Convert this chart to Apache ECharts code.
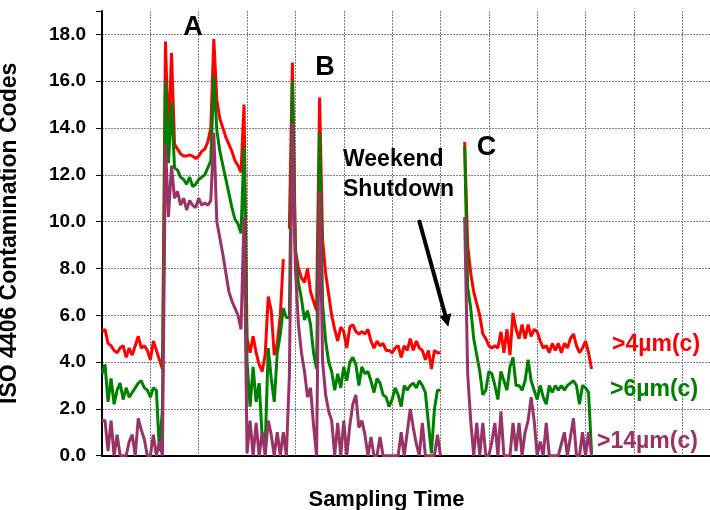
<!DOCTYPE html>
<html>
<head>
<meta charset="utf-8">
<script src="https://cdn.jsdelivr.net/npm/echarts@6/dist/echarts.min.js"></script>
<style>html,body{margin:0;padding:0;background:#fff}#c{width:710px;height:510px}</style>
</head>
<body>
<div id="c"></div>
<script>
// Sample index along the sampling time (16 samples per vertical grid division)
const yTicks = [0, 2, 4, 6, 8, 10, 12, 14, 16, 18];
const seriesNames = ['>4µm(c)', '>6µm(c)', '>14µm(c)'];

const red4 = [
  5.3,5.4,4.8,4.7,4.5,4.4,4.6,4.7,4.2,4.6,4.3,4.7,5.1,4.6,4.7,4.5,4.1,4.9,4.5,4.1,3.7,
  17.7,13.4,17.2,13.3,13.1,12.9,12.8,12.8,12.85,12.8,12.7,12.8,13.0,13.1,13.4,14.0,17.8,15.2,14.4,14.0,13.6,13.3,13.0,12.6,12.4,12.1,15.0,
  5.0,4.4,5.1,4.4,3.9,3.6,4.3,6.8,6.2,4.3,4.8,6.0,8.4,null,9.7,16.8,8.8,8.0,7.6,7.4,8.0,7.0,6.6,6.2,15.3,9.2,7.8,6.9,6.0,5.4,4.9,5.5,5.3,4.6,5.5,5.6,5.3,
  5.2,5.3,5.2,5.4,4.9,4.6,4.9,4.7,4.8,4.5,4.5,4.4,4.6,4.7,4.2,4.7,4.5,5.0,4.5,4.9,4.6,4.5,4.1,4.5,3.7,4.5,4.4,4.4,
  null,null,null,null,null,null,null,
  13.4,9.0,7.8,7.0,6.5,6.0,5.2,5.0,4.7,4.6,4.7,4.6,5.3,4.4,5.4,4.3,6.1,5.4,5.0,5.6,5.0,5.6,5.1,5.4,5.3,4.9,4.6,4.7,4.4,4.8,4.5,4.8,4.4,4.8,4.6,5.0,5.2,4.7,4.4,4.6,4.9,4.4,3.7
];
const green6 = [
  3.5,3.9,2.3,3.3,2.2,2.8,3.1,2.4,2.9,2.5,2.7,2.9,3.1,3.2,2.9,2.8,2.5,2.9,2.8,0.2,2.0,
  16.0,12.5,15.1,12.3,12.2,11.9,11.8,11.6,11.9,11.5,11.6,11.8,11.9,12.0,12.3,12.6,16.2,13.9,13.0,12.4,11.8,11.2,10.6,10.1,9.9,9.5,13.2,
  4.0,2.1,3.8,2.3,3.1,0.8,0.4,4.6,3.3,2.3,4.4,5.2,6.3,5.9,5.9,16.0,8.6,7.4,6.7,5.8,6.2,5.6,4.4,3.7,13.8,6.5,4.9,4.0,3.6,2.8,3.5,2.9,3.8,3.2,4.0,4.2,3.9,
  3.0,3.8,3.5,3.6,3.2,2.7,3.3,3.1,2.6,2.5,2.1,2.4,2.9,2.6,2.1,3.0,2.8,3.0,3.1,2.9,3.2,3.0,2.7,1.4,0.1,2.0,2.8,2.8,
  null,null,null,null,null,null,null,
  13.2,7.2,6.3,5.0,4.3,3.6,2.6,2.8,3.6,3.5,3.0,2.4,3.6,3.2,2.8,3.8,4.2,3.0,3.0,2.8,3.2,4.1,3.2,2.8,2.4,3.0,2.5,2.2,3.0,2.7,3.0,2.8,3.0,2.8,3.0,3.1,3.2,3.0,2.2,3.0,2.9,2.7,0.1
];
const purple14 = [
  1.5,1.5,0.2,1.5,0.0,0.9,0.0,0.0,0.0,0.6,0.9,0.0,1.6,1.1,0.7,0.0,0.0,0.9,0.0,0.6,0.0,
  13.3,10.2,12.4,11.0,11.3,10.7,11.0,10.5,10.9,10.7,10.6,11.0,10.7,10.8,10.7,10.9,13.8,10.0,9.3,8.6,7.8,7.0,6.6,6.3,6.0,5.4,10.2,
  0.1,1.5,0.0,1.4,0.0,1.0,0.0,1.5,0.9,0.0,1.0,0.0,1.0,0.0,3.4,14.2,8.0,5.6,4.4,3.6,2.5,2.9,1.3,0.0,11.3,4.0,2.6,1.9,1.5,0.0,1.4,0.0,1.5,0.0,1.3,2.2,2.6,
  1.2,1.5,0.9,0.0,0.8,0.0,0.0,0.8,0.0,0.0,0.0,0.0,0.0,0.0,1.0,0.0,1.0,2.0,1.2,0.5,0.0,1.4,0.0,0.0,0.0,0.0,0.9,0.0,
  null,null,null,null,null,null,null,
  10.2,3.5,1.5,0.0,1.4,0.0,1.4,0.0,0.0,0.6,1.4,0.0,1.9,0.0,0.0,0.0,1.4,0.2,1.4,0.0,1.0,1.5,2.5,1.5,0.0,0.6,0.0,1.4,0.0,0.0,0.0,0.0,0.5,1.0,0.0,0.8,1.6,0.0,0.0,1.0,0.0,1.0,0.0
];

const colors = ['#FF0000', '#008000', '#993366'];
const FONT = 'Liberation Sans, Arial, sans-serif';
const toPts = arr => arr.map((v, i) => [i, v]);

const chart = echarts.init(document.getElementById('c'), null, {renderer: 'canvas'});
const gridColors = yTicks.map(() => '#808080').concat(['rgba(0,0,0,0)']);

chart.setOption({
  animation: false,
  backgroundColor: '#ffffff',
  grid: {left: 102, top: 11, width: 628.6, bottom: 54.3, containLabel: false, outerBoundsMode: 'none'},
  xAxis: {
    type: 'value', min: 0, max: 208, interval: 16,
    axisLine: {show: true, onZero: false, lineStyle: {color: '#000', width: 2}},
    axisTick: {show: false},
    axisLabel: {show: false},
    splitLine: {show: true, lineStyle: {color: '#808080', width: 1, type: [2, 1]}}
  },
  yAxis: {
    type: 'value', min: 0, max: 19, interval: 2,
    name: 'ISO 4406 Contamination Codes',
    nameLocation: 'middle', nameRotate: 90, nameGap: 81,
    nameTextStyle: {fontFamily: FONT, fontWeight: 'bold', fontSize: 23, color: '#000'},
    axisLine: {show: true, lineStyle: {color: '#000', width: 2}},
    axisTick: {show: true, inside: false, length: 6, lineStyle: {color: '#000', width: 1}},
    axisLabel: {
      margin: 16, fontFamily: FONT, fontWeight: 'bold', fontSize: 19, color: '#000',
      formatter: v => (yTicks.indexOf(v) >= 0 ? v.toFixed(1) : '')
    },
    splitLine: {show: true, lineStyle: {color: gridColors, width: 1, type: [2, 1]}}
  },
  series: [
    {name: seriesNames[0], type: 'line', data: toPts(red4), showSymbol: false, connectNulls: false,
     lineStyle: {color: colors[0], width: 3}, itemStyle: {color: colors[0]}, z: 2},
    {name: seriesNames[1], type: 'line', data: toPts(green6), showSymbol: false, connectNulls: false,
     lineStyle: {color: colors[1], width: 3}, itemStyle: {color: colors[1]}, z: 3},
    {name: seriesNames[2], type: 'line', data: toPts(purple14), showSymbol: false, connectNulls: false,
     lineStyle: {color: colors[2], width: 3}, itemStyle: {color: colors[2]}, z: 4}
  ],
  graphic: [
    {type: 'text', x: 193, y: 28, z: 10, style: {text: 'A', font: 'bold 27px ' + FONT, fill: '#000', textAlign: 'center', textVerticalAlign: 'middle'}},
    {type: 'text', x: 325, y: 67.5, z: 10, style: {text: 'B', font: 'bold 27px ' + FONT, fill: '#000', textAlign: 'center', textVerticalAlign: 'middle'}},
    {type: 'text', x: 486.5, y: 148, z: 10, style: {text: 'C', font: 'bold 27px ' + FONT, fill: '#000', textAlign: 'center', textVerticalAlign: 'middle'}},
    {type: 'text', x: 343, y: 145, z: 10, style: {text: 'Weekend\nShutdown', font: 'bold 23px ' + FONT, lineHeight: 30, fill: '#000', textAlign: 'left', textVerticalAlign: 'top'}},
    {type: 'line', z: 10, shape: {x1: 419, y1: 220, x2: 445.5, y2: 316}, style: {stroke: '#000', lineWidth: 4}},
    {type: 'polygon', z: 10, shape: {points: [[448.3, 326.7], [451.2, 313.2], [439.6, 316.4]]}, style: {fill: '#000'}},
    {type: 'text', x: 612, y: 345, z: 10, style: {text: seriesNames[0], font: 'bold 23px ' + FONT, fill: colors[0], textAlign: 'left', textVerticalAlign: 'middle'}},
    {type: 'text', x: 610, y: 390, z: 10, style: {text: seriesNames[1], font: 'bold 23px ' + FONT, fill: colors[1], textAlign: 'left', textVerticalAlign: 'middle'}},
    {type: 'text', x: 597, y: 442, z: 10, style: {text: seriesNames[2], font: 'bold 23px ' + FONT, fill: colors[2], textAlign: 'left', textVerticalAlign: 'middle'}},
    {type: 'text', x: 386.5, y: 499.5, z: 10, style: {text: 'Sampling Time', font: 'bold 22px ' + FONT, fill: '#000', textAlign: 'center', textVerticalAlign: 'middle'}}
  ]
});
</script>
</body>
</html>
